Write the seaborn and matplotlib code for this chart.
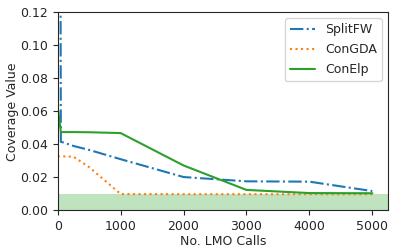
import matplotlib
matplotlib.use("Agg")
import matplotlib.pyplot as plt
import seaborn as sns
import pandas as pd

# LMO call checkpoints and coverage values
lmo_calls = [0, 50, 100, 250, 500, 1000, 2000, 3000, 4000, 5000]
splitfw = [1.0, 0.0415, 0.0410, 0.0390, 0.0366, 0.0310, 0.0202, 0.0176, 0.0174, 0.0117]
congda = [0.0327, 0.0327, 0.0327, 0.0325, 0.0262, 0.0099, 0.0098, 0.0098, 0.0098, 0.0098]
conelp = [0.0626, 0.0474, 0.0474, 0.0474, 0.0473, 0.0468, 0.0272, 0.0124, 0.0105, 0.0104]
threshold = 0.01

sns.set_style("ticks")
plt.rcParams['font.family'] = ['DejaVu Sans']

fig, ax = plt.subplots(figsize=(3.98, 2.52), dpi=100)

palette = sns.color_palette("tab10")
series = [("SplitFW", splitfw, "-.", palette[0]),
          ("ConGDA", congda, ":", palette[1]),
          ("ConElp", conelp, "-", palette[2])]

for name, vals, ls, col in series:
    df = pd.DataFrame({"calls": lmo_calls, "value": vals})
    sns.lineplot(data=df, x="calls", y="value", ax=ax, label=name,
                 color=col, linestyle=ls, linewidth=1.5)

ax.axhspan(0, threshold, color=palette[2], alpha=0.3, linewidth=0)

ax.set_xlim(0, 5250)
ax.set_ylim(0, 0.12)
ax.set_yticks([0.0, 0.02, 0.04, 0.06, 0.08, 0.10, 0.12])
ax.set_xticks([0, 1000, 2000, 3000, 4000, 5000])
ax.tick_params(labelsize=9)
ax.set_xlabel("No. LMO Calls", fontsize=9, labelpad=1)
ax.set_ylabel("Coverage Value", fontsize=9, labelpad=1)
ax.legend(loc="upper right", fontsize=9, labelspacing=0.55)

fig.subplots_adjust(left=0.145, right=0.975, top=0.952, bottom=0.165)
fig.savefig("out.png", dpi=100)
